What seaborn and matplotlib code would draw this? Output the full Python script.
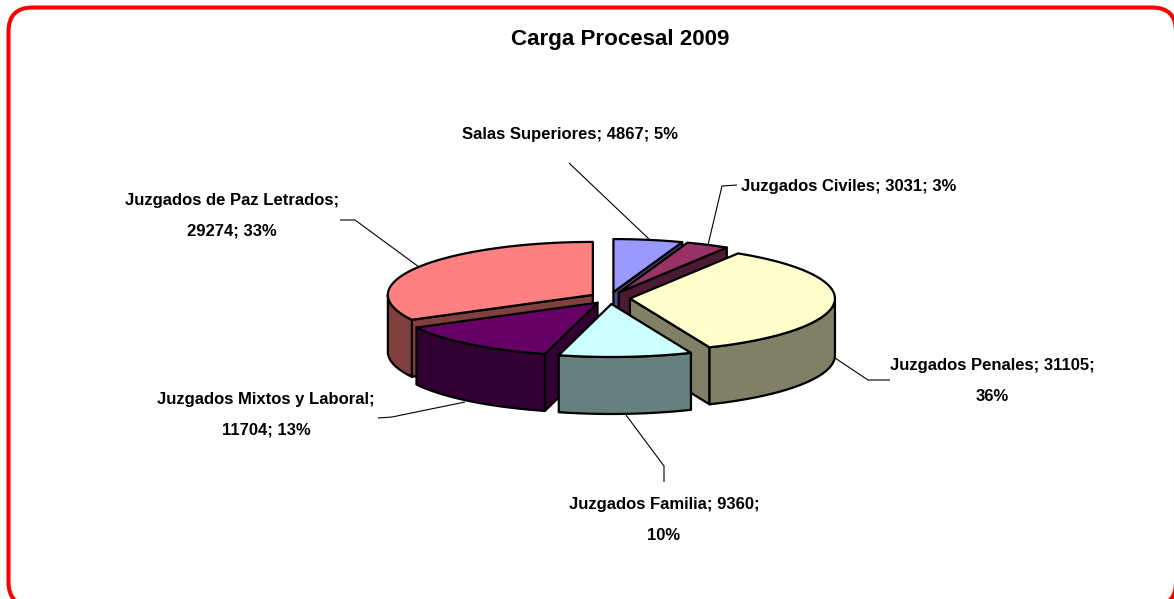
import numpy as np
import matplotlib
matplotlib.use("Agg")
import matplotlib.pyplot as plt
from matplotlib.patches import FancyBboxPatch
import seaborn as sns

categories = ["Salas Superiores", "Juzgados Civiles", "Juzgados Penales",
              "Juzgados Familia", "Juzgados Mixtos y Laboral", "Juzgados de Paz Letrados"]
values = [4867, 3031, 31105, 9360, 11704, 29274]
percents = [5, 3, 36, 10, 13, 33]
top_colors = ["#9999FF", "#993366", "#FFFFCC", "#CCFFFF", "#660066", "#FF8080"]
split_after = [None, None, 2, 2, 1, 1]

# layout
W, H = 1174, 599
CX, CY, RX, RY, DEPTH, EXPLODE_X, EXPLODE_Y = 610, 298, 205, 53, 57, 20, 6
draw_order = [5, 0, 1, 2, 4, 3]
label_pos = [(570, 135), (849, 186), (992, 381), (664, 520), (266, 415), (232, 216)]
leaders = [[(569, 163), (651, 241)],
           [(737, 185), (722, 186), (708, 245)],
           [(890, 380), (868, 380), (835, 358)],
           [(664, 482), (664, 466), (626, 415)],
           [(378, 418), (392, 417), (465, 402)],
           [(340, 220), (355, 220), (419, 267)]]

sns.set_theme(style="white")
plt.rcParams["font.family"] = ["Liberation Sans", "DejaVu Sans"]

fig = plt.figure(figsize=(W / 100, H / 100), dpi=100)
ax = fig.add_axes([0, 0, 1, 1])
ax.set_xlim(0, W)
ax.set_ylim(H, 0)
ax.axis("off")

tops = sns.color_palette(top_colors)
sides = [tuple(c * 0.5 for c in col) for col in tops]

ax.add_patch(FancyBboxPatch((8.5, 7.5), 1167.5, 598.5, boxstyle="round,pad=0,rounding_size=24",
                            fc="white", ec="#FF0000", lw=2.9, zorder=0))

total = sum(values)
edges = np.concatenate([[0], np.cumsum(values)]) / total * 360


def rim(a, cx, cy):
    r = np.radians(a)
    return cx + RX * np.sin(r), cy - RY * np.cos(r)


line = dict(edgecolor="black", linewidth=1.6, joinstyle="round")
z = 2
for i in draw_order:
    a0, a1 = edges[i], edges[i + 1]
    mid = np.radians((a0 + a1) / 2)
    cx = CX + EXPLODE_X * np.sin(mid)
    cy = CY - EXPLODE_Y * np.cos(mid)
    # radial walls that face the viewer
    for a, vis in ((a0, np.sin(np.radians(a0)) < -1e-6), (a1, np.sin(np.radians(a1)) > 1e-6)):
        if vis:
            x, y = rim(a, cx, cy)
            ax.fill([cx, x, x, cx], [cy, y, y + DEPTH, cy + DEPTH],
                    facecolor=sides[i], zorder=z, **line)
    # outer wall
    lo, hi = max(a0, 90), min(a1, 270)
    if hi > lo:
        arc = np.linspace(lo, hi, 80)
        x, y = rim(arc, cx, cy)
        ax.fill(np.r_[x, x[::-1]], np.r_[y, y[::-1] + DEPTH],
                facecolor=sides[i], zorder=z, **line)
    # top
    arc = np.linspace(a0, a1, 120)
    x, y = rim(arc, cx, cy)
    ax.fill(np.r_[cx, x], np.r_[cy, y], facecolor=tops[i], zorder=z, **line)
    z += 1

for pts in leaders:
    xs, ys = zip(*pts)
    ax.plot(xs, ys, color="black", lw=0.8, zorder=1, solid_capstyle="butt")

for i, name in enumerate(categories):
    parts = [f"{name};", f"{values[i]};", f"{percents[i]}%"]
    if split_after[i] is None:
        s = " ".join(parts)
    else:
        s = " ".join(parts[:split_after[i]]) + "\n" + " ".join(parts[split_after[i]:])
    ax.text(*label_pos[i], s, ha="center", va="center", fontsize=11.95, fontweight="bold",
            color="black", linespacing=2.3, zorder=20)

ax.text(620, 39.5, "Carga Procesal 2009", ha="center", va="center", fontsize=16.1,
        fontweight="bold", color="black", zorder=20)

fig.savefig("out.png", dpi=100, facecolor="white")
